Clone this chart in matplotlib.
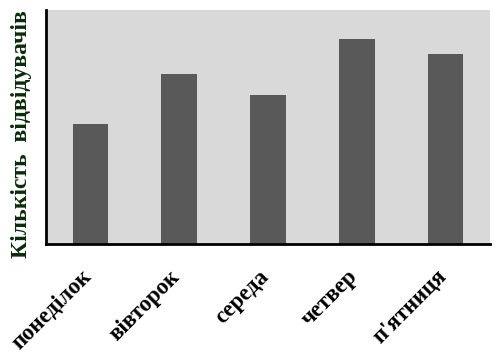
import matplotlib
matplotlib.use("Agg")
import matplotlib.pyplot as plt
import matplotlib.transforms as mtransforms

days = ["понеділок", "вівторок", "середа", "четвер", "п'ятниця"]
visitors = [120, 170, 149, 205, 190]
y_max = 234
y_label = "Кількість  відвідувачів"

fig = plt.figure(figsize=(5.01, 3.61), dpi=100)
ax = fig.add_axes([46/501, (361-244)/361, 444/501, 234/361])
ax.set_facecolor("#d9d9d9")
x = list(range(len(days)))
ax.bar(x, visitors, width=0.4, color="#595959", zorder=2)
ax.set_xlim(-0.5, len(days) - 0.5)
ax.set_ylim(0, y_max)
ax.set_yticks([])
ax.set_xticks(x)
ax.set_xticklabels(days, rotation=45, ha="right", va="top",
                   fontfamily="Liberation Serif", fontweight="bold", fontsize=16.5)
ax.tick_params(axis="x", length=0, pad=16)
offset = mtransforms.ScaledTranslation(5/100, 0, fig.dpi_scale_trans)
for lbl in ax.get_xticklabels():
    lbl.set_transform(lbl.get_transform() + offset)
for s in ["top", "right"]:
    ax.spines[s].set_visible(False)
ax.spines["left"].set_linewidth(2)
ax.spines["bottom"].set_linewidth(2)
ax.set_ylabel(y_label, fontfamily="Liberation Serif", fontweight="bold",
              fontsize=17, color="#0b2b0b")
ax.yaxis.set_label_coords(-14/444, 0.47)
fig.savefig("out.png", dpi=100)
